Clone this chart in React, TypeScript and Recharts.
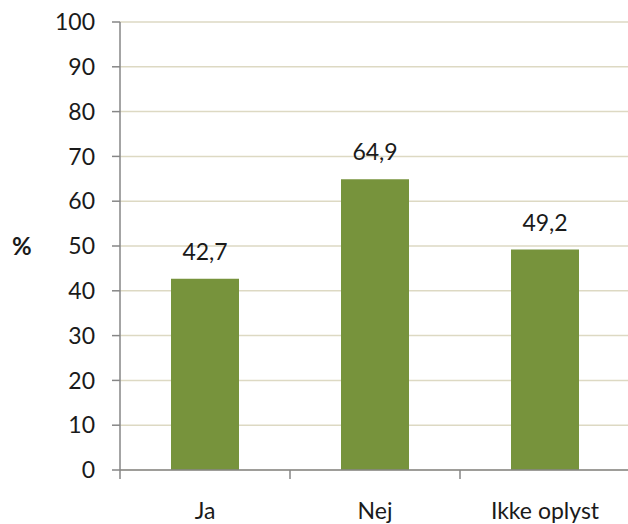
import React from 'react';
import { BarChart, Bar, XAxis, YAxis, CartesianGrid, LabelList } from 'recharts';

const categories = ['Ja', 'Nej', 'Ikke oplyst'];
const values = [42.7, 64.9, 49.2];
const yTicks = [0, 10, 20, 30, 40, 50, 60, 70, 80, 90, 100];

const data = categories.map((name, i) => ({ name, value: values[i] }));

const FONT = 'Lato, "Open Sans", sans-serif';

function XTick(props: any) {
  const { x, y, payload } = props;
  const half = payload && payload.offset ? payload.offset : 85;
  return (
    <g>
      <line x1={x - half} y1={y - 26} x2={x - half} y2={y - 17} stroke="#868686" strokeWidth={1.5} />
      <text x={x} y={y} dy={23} textAnchor="middle" fill="#1a1a1a" fontSize={23} fontFamily={FONT}>
        {payload.value}
      </text>
    </g>
  );
}

export default function App() {
  return (
    <div style={{ position: 'absolute', left: 0, top: 0, width: 628, height: 524, overflow: 'hidden', background: '#fff' }}>
      <BarChart
        width={630}
        height={524}
        data={data}
        margin={{ top: 22, right: 0, bottom: 0, left: 0 }}
        barCategoryGap="30%"
      >
        <CartesianGrid vertical={false} stroke="#DDD9C3" strokeWidth={1.5} />
        <XAxis
          dataKey="name"
          height={54}
          axisLine={{ stroke: '#868686', strokeWidth: 1.5 }}
          tickLine={false}
          tickSize={8}
          tickMargin={18}
          tick={<XTick />}
        />
        <YAxis
          width={120}
          domain={[0, 100]}
          ticks={yTicks}
          interval={0}
          axisLine={{ stroke: '#868686', strokeWidth: 1.5 }}
          tickLine={{ stroke: '#868686', strokeWidth: 1.5 }}
          tickSize={8}
          tickMargin={17}
          tick={{ fill: '#1a1a1a', fontSize: 23, fontFamily: FONT }}
          label={{ value: '%', position: 'insideLeft', offset: 12, fill: '#1a1a1a', fontSize: 24, fontWeight: 'bold', fontFamily: FONT }}
        />
        <Bar dataKey="value" fill="#77933C" isAnimationActive={false}>
          <LabelList
            dataKey="value"
            position="top"
            offset={19}
            formatter={(v: any) => String(v).replace('.', ',')}
            fill="#1a1a1a"
            fontSize={23}
            fontFamily={FONT}
          />
        </Bar>
      </BarChart>
    </div>
  );
}
